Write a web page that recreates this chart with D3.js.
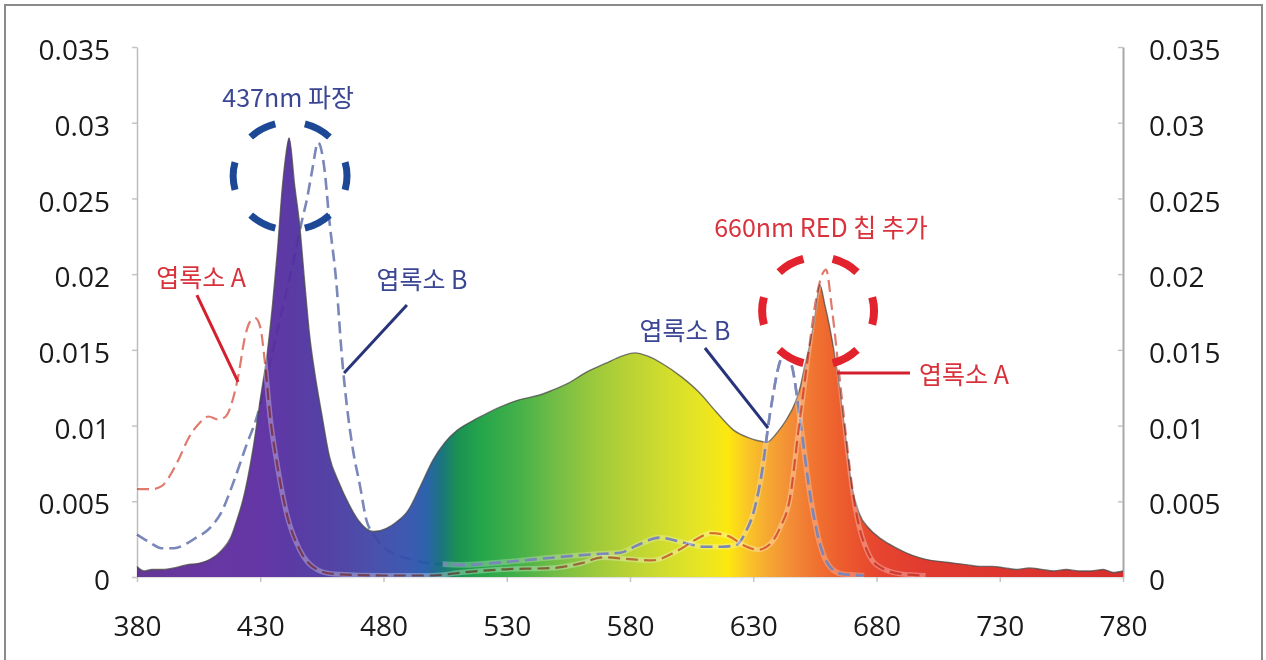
<!DOCTYPE html>
<html>
<head>
<meta charset="utf-8">
<script src="https://cdn.jsdelivr.net/npm/d3@7"></script>
<style>
  html, body { margin: 0; padding: 0; background: #fff; }
  svg { display: block; }
</style>
</head>
<body>
<svg id="chart" width="1266" height="660"></svg>
<script>
// LED spectrum (relative power)
const ledWl  = [380, 383, 386, 390, 395, 400, 405, 410, 414, 418, 421, 423, 425, 427, 430, 433, 435, 437, 439, 440.5, 441.7,
                444, 446, 448, 450, 452, 455, 458, 462, 466, 470, 476, 481, 485, 490, 495, 500, 505, 510, 516, 522, 527,
                535, 543, 548, 555, 562, 570, 577, 582, 587, 593, 601, 608, 615, 622, 628, 632, 635.5, 640, 643.5, 647,
                649, 651, 653, 655, 657, 659, 661, 664, 667, 670, 673, 677, 682, 687, 692, 697, 702, 707, 712, 717, 722,
                727, 732, 737, 742, 747, 752, 757, 762, 767, 772, 776, 780];
const ledSpd = [0.0007, 0.0004, 0.0005, 0.0005, 0.0006, 0.0008, 0.0009, 0.0012, 0.0017, 0.0026, 0.0040, 0.0051, 0.0066, 0.0084, 0.0117, 0.0150, 0.0180, 0.0216, 0.0258, 0.0280, 0.0290,
                0.0258, 0.0232, 0.0195, 0.0160, 0.0136, 0.0107, 0.0080, 0.0062, 0.0048, 0.0037, 0.0030, 0.0032, 0.0036, 0.0044, 0.0060, 0.0077, 0.0089, 0.0097, 0.0103, 0.0108, 0.0112,
                0.0117, 0.0120, 0.0123, 0.0128, 0.0135, 0.0141, 0.0146, 0.0148, 0.0146, 0.0141, 0.0132, 0.0122, 0.0109, 0.0097, 0.0092, 0.0090, 0.0089, 0.0096, 0.0104, 0.0115,
                0.0125, 0.0140, 0.0154, 0.0172, 0.0193, 0.0180, 0.0165, 0.0137, 0.0099, 0.0060, 0.0042, 0.0032, 0.0025, 0.0020, 0.0016, 0.0013, 0.0011, 0.0010, 0.0009, 0.0008, 0.0007,
                0.0007, 0.0006, 0.0005, 0.0006, 0.0005, 0.0004, 0.0005, 0.0004, 0.0004, 0.0005, 0.0003, 0.0004];

// chlorophyll A absorption (dashed red)
const chlAWl  = [380, 386, 390, 393, 397, 401, 405, 409, 413, 416, 419, 421, 424, 426, 428, 430, 432, 434, 437, 441, 446, 453, 460,
                 480, 500, 512, 528, 549, 560, 569, 578, 589, 600, 607, 613, 620, 626, 632, 637, 641, 645, 648, 652, 656, 659.5,
                 662, 665, 668, 670.5, 673, 676, 680, 690, 700];
const chlAVal = [0.0058, 0.0058, 0.0060, 0.0066, 0.0078, 0.0092, 0.0101, 0.0106, 0.0104, 0.0106, 0.0118, 0.0132, 0.0160, 0.0169, 0.0171, 0.0165, 0.0140, 0.0106, 0.0073, 0.0040, 0.0018, 0.0005, 0.0002,
                 0.0001, 0.0001, 0.0003, 0.0005, 0.0006, 0.0009, 0.0013, 0.0012, 0.0011, 0.0018, 0.0025, 0.0029, 0.0027, 0.0021, 0.0018, 0.0022, 0.0033, 0.0053, 0.0092, 0.0143, 0.0188, 0.0203,
                 0.0176, 0.0132, 0.0088, 0.0055, 0.0033, 0.0018, 0.0008, 0.0002, 0.0001];

// chlorophyll B absorption (dashed blue)
const chlBWl  = [380, 385, 390, 395, 400, 405, 408, 411, 414, 419, 424.6, 428.7, 433, 438, 443, 447, 449, 451, 453.5, 456, 458, 461,
                 463, 465, 467.6, 470.5, 473, 476, 480, 490, 500, 512, 530, 550, 565, 576, 583, 592, 601, 610, 617, 623, 627,
                 630, 633, 637, 641, 643, 646, 649, 653, 657, 661, 666, 675];
const chlBVal = [0.0028, 0.0023, 0.0019, 0.0019, 0.0022, 0.0027, 0.0030, 0.0035, 0.0042, 0.0062, 0.0088, 0.0106, 0.0135, 0.0170, 0.0205, 0.0236, 0.0250, 0.0268, 0.0287, 0.0270, 0.0236, 0.0192,
                 0.0148, 0.0115, 0.0084, 0.0060, 0.0038, 0.0028, 0.0020, 0.0012, 0.0009, 0.0008, 0.0010, 0.0013, 0.0015, 0.0016, 0.0021, 0.0026, 0.0023, 0.0020, 0.0020, 0.0021, 0.0030,
                 0.0042, 0.0064, 0.0110, 0.0143, 0.0148, 0.0137, 0.0104, 0.0055, 0.0022, 0.0007, 0.0002, 0.0001];

const xTicks = [380, 430, 480, 530, 580, 630, 680, 730, 780];
const yTicks = [0, 0.005, 0.01, 0.015, 0.02, 0.025, 0.03, 0.035];
const yTickLabels = ["0", "0.005", "0.01", "0.015", "0.02", "0.025", "0.03", "0.035"];

// colour of the spectrum fill by wavelength
const spectrumStops = [
  [380, "#5b2a8e"], [410, "#5e2a9c"], [430, "#5a2aa0"], [445, "#4f2f9f"], [460, "#4838a0"],
  [475, "#3f45a6"], [490, "#3250ad"], [497, "#2058a8"], [503, "#0e6a7a"], [510, "#0c8a48"],
  [520, "#18a040"], [535, "#3aac3e"], [550, "#6ab93a"], [565, "#95c530"], [580, "#b5d028"],
  [595, "#cfdb20"], [610, "#e8e415"], [620, "#fde600"], [627, "#f9c518"], [635, "#f5a624"],
  [645, "#f2862a"], [655, "#ef6a24"], [665, "#ec5420"], [680, "#e53a22"], [700, "#df2e22"],
  [780, "#d42020"]
];

const svg = d3.select("#chart");

const x = d3.scaleLinear().domain([380, 780]).range([137, 1123]);
const y = d3.scaleLinear().domain([0, 0.035]).range([577, 47]);

// outer frame
svg.append("rect")
  .attr("x", 5).attr("y", 5)
  .attr("width", 1257).attr("height", 700)
  .attr("fill", "none")
  .attr("stroke", "#8a8a8a")
  .attr("stroke-width", 2);

const defs = svg.append("defs");
const grad = defs.append("linearGradient")
  .attr("id", "spec")
  .attr("gradientUnits", "userSpaceOnUse")
  .attr("x1", x(380)).attr("x2", x(780))
  .attr("y1", 0).attr("y2", 0);
grad.selectAll("stop")
  .data(spectrumStops)
  .enter().append("stop")
  .attr("offset", d => (d[0] - 380) / 400)
  .attr("stop-color", d => d[1]);

// chl B is only drawn above the fill past the blue band
defs.append("clipPath").attr("id", "pastBlue")
  .append("rect")
  .attr("x", x(504)).attr("y", 0)
  .attr("width", x(780) - x(504) + 20).attr("height", 660);

// axes
function styleAxis(g) {
  g.select(".domain").attr("stroke", "#bdbdbd").attr("stroke-width", 1.5);
  g.selectAll(".tick line").attr("stroke", "#c4c4c4").attr("stroke-width", 1.5);
  g.selectAll(".tick text")
    .attr("fill", "#1a1a1a")
    .style("font-family", "'Open Sans', sans-serif")
    .style("font-size", "28px");
}

svg.append("g")
  .attr("transform", "translate(" + x(380) + ",0)")
  .call(d3.axisLeft(y).tickValues(yTicks).tickSizeInner(5).tickSizeOuter(0).tickPadding(22)
    .tickFormat((d, i) => yTickLabels[i]))
  .call(styleAxis)
  .call(g => g.selectAll(".tick text").attr("dy", "0.45em"));

svg.append("g")
  .attr("transform", "translate(" + x(780) + ",0)")
  .call(d3.axisRight(y).tickValues(yTicks).tickSizeInner(-5).tickSizeOuter(0).tickPadding(26)
    .tickFormat((d, i) => yTickLabels[i]))
  .call(styleAxis)
  .call(g => g.select(".domain").attr("stroke", "#a8a8a8").attr("stroke-width", 2))
  .call(g => g.selectAll(".tick text").attr("dy", "0.45em"));

svg.append("g")
  .attr("transform", "translate(0," + y(0) + ")")
  .call(d3.axisBottom(x).tickValues(xTicks).tickSizeInner(5).tickSizeOuter(0).tickPadding(34))
  .call(styleAxis)
  .call(g => g.select(".domain").attr("stroke", "#e0e0e0"));

const line = d3.line()
  .x(d => x(d[0]))
  .y(d => y(d[1]))
  .curve(d3.curveMonotoneX);

const chlA = chlAWl.map((w, i) => [w, chlAVal[i]]);
const chlB = chlBWl.map((w, i) => [w, chlBVal[i]]);

function dashed(data, color, w, clip, halo) {
  const g = svg.append("g");
  if (clip) g.attr("clip-path", "url(#" + clip + ")");
  g.append("path")
    .datum(data)
    .attr("d", line)
    .attr("fill", "none")
    .attr("stroke", "#fff")
    .attr("stroke-opacity", halo)
    .attr("stroke-width", w + 3);
  g.append("path")
    .datum(data)
    .attr("d", line)
    .attr("fill", "none")
    .attr("stroke", color)
    .attr("stroke-width", w)
    .attr("stroke-dasharray", "12 6")
    .style("mix-blend-mode", "multiply");
}

// chl B under the fill
dashed(chlB, "#7a87b8", 2.6, null, 0.4);

// spectrum fill
const led = ledWl.map((w, i) => [w, ledSpd[i]]);
const area = d3.area()
  .x(d => x(d[0]))
  .y0(y(0))
  .y1(d => y(d[1]))
  .curve(d3.curveMonotoneX);
svg.append("path")
  .datum(led)
  .attr("d", area)
  .attr("fill", "url(#spec)")
  .attr("fill-opacity", 0.94);

svg.append("path")
  .datum(led)
  .attr("d", line)
  .attr("fill", "none")
  .attr("stroke", "#4a4a4a")
  .attr("stroke-opacity", 0.75)
  .attr("stroke-width", 1.4);

// absorption curves above the fill
dashed(chlB, "#7a87b8", 2.6, "pastBlue", 0.25);
dashed(chlA, "#e07a6c", 2.2, null, 0.3);

// annotations (data coordinates)
const circles = [
  { wl: 442.1, v: 0.02648, rwl: 23.1, rv: 0.00357, color: "#1c4896", width: 7 },
  { wl: 656.3, v: 0.01757, rwl: 22.7, rv: 0.00357, color: "#e2222c", width: 8 }
];
svg.selectAll(".ring")
  .data(circles)
  .enter().append("ellipse")
  .attr("cx", d => x(d.wl))
  .attr("cy", d => y(d.v))
  .attr("rx", d => x(380 + d.rwl) - x(380))
  .attr("ry", d => y(0) - y(d.rv))
  .attr("fill", "none")
  .attr("stroke", d => d.color)
  .attr("stroke-width", d => d.width)
  .attr("pathLength", 360)
  .attr("stroke-dasharray", "29 31")
  .attr("stroke-dashoffset", 14.5);

const leaders = [
  { from: [404.3, 0.01862], to: [421.0, 0.01288], color: "#d4202e" },
  { from: [489.5, 0.01796], to: [464.0, 0.01347], color: "#27337a" },
  { from: [610.4, 0.01512], to: [636.0, 0.00984], color: "#27337a" },
  { from: [664.0, 0.01347], to: [693.6, 0.01347], color: "#d4202e" }
];
svg.selectAll(".leader")
  .data(leaders)
  .enter().append("line")
  .attr("x1", d => x(d.from[0])).attr("y1", d => y(d.from[1]))
  .attr("x2", d => x(d.to[0])).attr("y2", d => y(d.to[1]))
  .attr("stroke", d => d.color)
  .attr("stroke-width", 3);

const labels = [
  { text: "437nm 파장", wl: 441.3, v: 0.03163, color: "#3c4794" },
  { text: "660nm RED 칩 추가", wl: 657.5, v: 0.02305, color: "#d9323c" },
  { text: "엽록소 A", wl: 406.0, v: 0.01975, color: "#d9323c" },
  { text: "엽록소 B", wl: 495.6, v: 0.01961, color: "#3c4794" },
  { text: "엽록소 B", wl: 602.3, v: 0.01625, color: "#3c4794" },
  { text: "엽록소 A", wl: 715.5, v: 0.01334, color: "#d9323c" }
];
svg.selectAll(".label")
  .data(labels)
  .enter().append("text")
  .attr("x", d => x(d.wl))
  .attr("y", d => y(d.v))
  .attr("dy", "0.36em")
  .attr("text-anchor", "middle")
  .attr("fill", d => d.color)
  .style("font-family", "'Noto Sans CJK KR', 'Noto Sans', sans-serif")
  .style("font-size", "25px")
  .text(d => d.text);
</script>
</body>
</html>
